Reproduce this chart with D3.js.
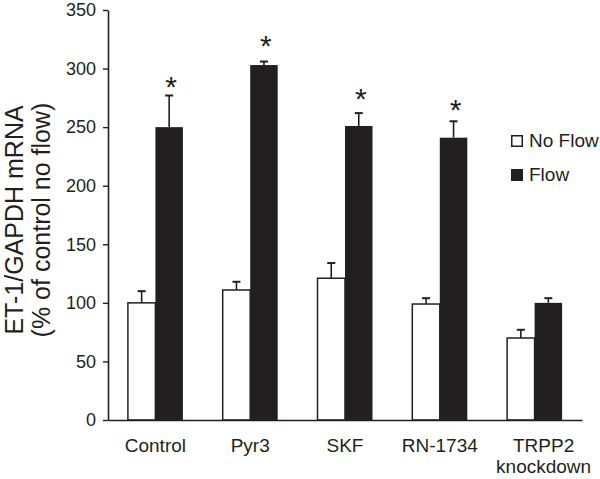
<!DOCTYPE html>
<html>
<head>
<meta charset="utf-8">
<script src="https://cdn.jsdelivr.net/npm/d3@7"></script>
<style>
  html, body { margin: 0; padding: 0; background: #fff; }
  svg { display: block; }
  text { font-family: "Liberation Sans", Arial, sans-serif; fill: #231f20; }
</style>
</head>
<body>
<svg id="chart" width="600" height="479"></svg>
<script>
const categories = ["Control", "Pyr3", "SKF", "RN-1734", "TRPP2 knockdown"];
const noFlow     = [100, 111, 121, 99, 70];
const noFlowErr  = [10, 7, 13, 5, 7];
const flow       = [250, 303, 251, 241, 100];
const flowErr    = [27, 3, 11, 14, 4];
const sigMarks   = [290, 325, 280, 271, null];
const yTicks     = [0, 50, 100, 150, 200, 250, 300, 350];
const seriesNames = ["No Flow", "Flow"];

const ink = "#231f20";
const svg = d3.select("#chart");

const x = d3.scaleBand().domain(categories).range([108, 582]).padding(0);
const y = d3.scaleLinear().domain([0, 350]).range([420, 10]);
const bw = 27.5;

// Y axis
const yAxis = svg.append("g").attr("transform", "translate(108,0)")
  .call(d3.axisLeft(y).tickValues(yTicks).tickSize(5).tickSizeOuter(0).tickPadding(7));
yAxis.select(".domain").attr("stroke", ink).attr("stroke-width", 1.6);
yAxis.selectAll(".tick line").attr("stroke", ink).attr("stroke-width", 1.4);
yAxis.selectAll(".tick text").attr("font-size", 18).attr("fill", ink)
  .attr("font-family", "Liberation Sans, Arial, sans-serif");

// Y title
const title = svg.append("text")
  .attr("transform", "translate(23,220) rotate(-90)")
  .attr("text-anchor", "middle").attr("font-size", 25);
title.append("tspan").attr("x", 0).attr("y", 0).text("ET-1/GAPDH mRNA");
title.append("tspan").attr("x", 0).attr("y", 27).text("(% of control no flow)");

// Bars
const groups = categories.map((c, i) => ({c, i}));
const g = svg.append("g");

function errBar(cx, v, e) {
  g.append("line").attr("x1", cx).attr("x2", cx).attr("y1", y(v)).attr("y2", y(v + e))
    .attr("stroke", ink).attr("stroke-width", 1.6);
  g.append("line").attr("x1", cx - 4).attr("x2", cx + 4).attr("y1", y(v + e)).attr("y2", y(v + e))
    .attr("stroke", ink).attr("stroke-width", 2);
}

groups.forEach(d => {
  const cx = x(d.c) + x.bandwidth() / 2;
  errBar(cx - bw / 2, noFlow[d.i], noFlowErr[d.i]);
  g.append("rect").attr("x", cx - bw).attr("y", y(noFlow[d.i]))
    .attr("width", bw).attr("height", y(0) - y(noFlow[d.i]))
    .attr("fill", "#fff").attr("stroke", ink).attr("stroke-width", 1.5);
  errBar(cx + bw / 2, flow[d.i], flowErr[d.i]);
  g.append("rect").attr("x", cx).attr("y", y(flow[d.i]))
    .attr("width", bw).attr("height", y(0) - y(flow[d.i]))
    .attr("fill", ink);
  if (sigMarks[d.i] != null) {
    g.append("text").attr("x", cx + bw / 2 + 2).attr("y", y(sigMarks[d.i]) + 17)
      .attr("text-anchor", "middle").attr("font-size", 30).text("*");
  }
});

// X axis
const xAxis = svg.append("g").attr("transform", "translate(0,420)")
  .call(d3.axisBottom(x).tickSize(0).tickSizeOuter(0).tickFormat(""));
xAxis.select(".domain").attr("stroke", ink).attr("stroke-width", 1.6);

groups.forEach(d => {
  const cx = x(d.c) + x.bandwidth() / 2;
  const words = d.c === "TRPP2 knockdown" ? ["TRPP2", "knockdown"] : [d.c];
  const lx = cx + (words.length > 1 ? 9 : 0);
  const t = svg.append("text").attr("text-anchor", "middle").attr("font-size", 19)
    .attr("x", lx).attr("y", 452);
  words.forEach((w, k) => {
    t.append("tspan").attr("x", lx).attr("y", 452 + k * 21).text(w);
  });
});

// Legend
const legend = svg.append("g").attr("transform", "translate(511,135)");
seriesNames.forEach((s, i) => {
  legend.append("rect").attr("x", 0.75).attr("y", i * 34 + 0.75).attr("width", 10.5).attr("height", 10.5)
    .attr("fill", i === 0 ? "#fff" : ink).attr("stroke", ink).attr("stroke-width", 1.5);
  legend.append("text").attr("x", 18).attr("y", i * 34 + 12).attr("font-size", 19).text(s);
});
</script>
</body>
</html>
